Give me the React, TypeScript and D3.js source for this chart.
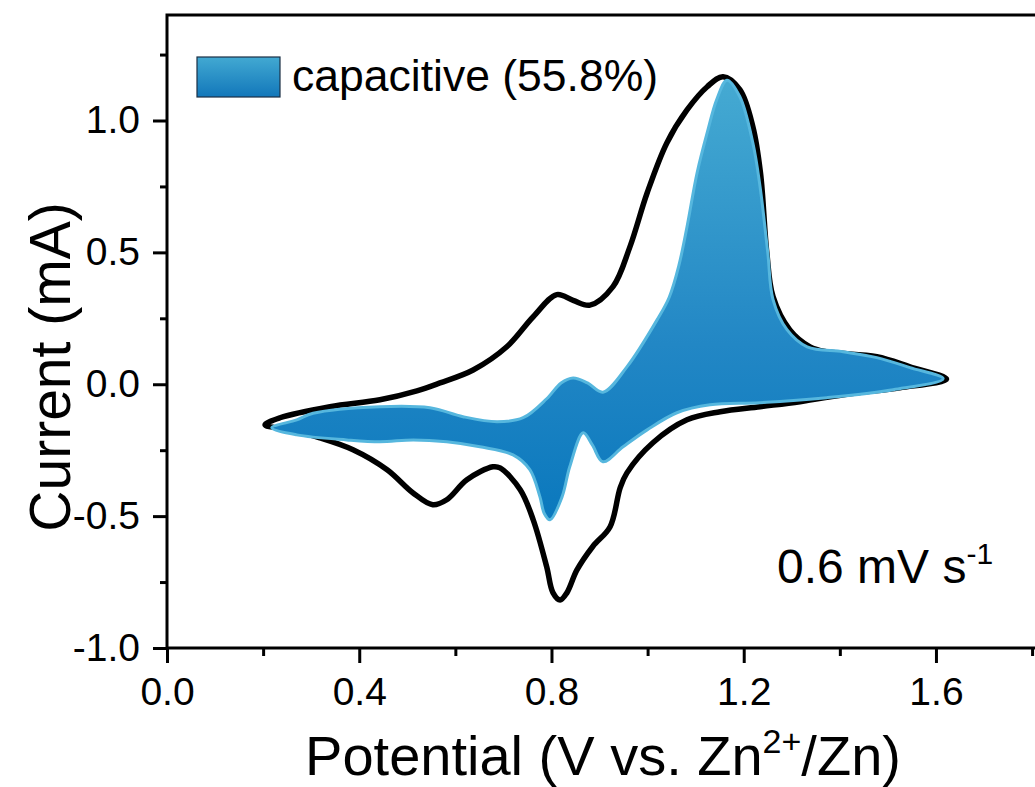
import React, { useEffect, useRef } from "react";
import * as d3 from "d3";

// [potential (V), current (mA)]
const totalForward = [
  [0.204, -0.154], [0.235, -0.127], [0.339, -0.085], [0.443, -0.059], [0.52, -0.025],
  [0.568, 0.005], [0.637, 0.054], [0.707, 0.142], [0.762, 0.256], [0.811, 0.34],
  [0.845, 0.318], [0.88, 0.3], [0.928, 0.37], [0.963, 0.52], [0.999, 0.725],
  [1.04, 0.915], [1.082, 1.04], [1.124, 1.128], [1.157, 1.166], [1.192, 1.117],
  [1.219, 0.977], [1.235, 0.8], [1.248, 0.5], [1.261, 0.332], [1.296, 0.206],
  [1.338, 0.142], [1.373, 0.123], [1.477, 0.104], [1.546, 0.066], [1.622, 0.02],
];
const totalReverse = [
  [1.525, -0.013], [1.421, -0.036], [1.317, -0.066], [1.234, -0.085], [1.151, -0.104],
  [1.082, -0.135], [1.011, -0.222], [0.957, -0.336], [0.943, -0.392], [0.922, -0.54],
  [0.886, -0.615], [0.853, -0.704], [0.832, -0.791], [0.818, -0.818], [0.803, -0.79],
  [0.79, -0.692], [0.762, -0.514], [0.735, -0.4], [0.693, -0.317], [0.678, -0.313],
  [0.624, -0.362], [0.582, -0.438], [0.553, -0.457], [0.512, -0.412], [0.458, -0.324],
  [0.387, -0.248], [0.318, -0.203], [0.256, -0.173],
];
const capForward = [
  [0.218, -0.165], [0.27, -0.135], [0.304, -0.11], [0.443, -0.085], [0.547, -0.089],
  [0.616, -0.123], [0.687, -0.142], [0.741, -0.127], [0.79, -0.055], [0.82, 0.005],
  [0.845, 0.024], [0.875, 0.005], [0.907, -0.03], [0.957, 0.066], [1.02, 0.245],
  [1.045, 0.33], [1.065, 0.45], [1.082, 0.597], [1.103, 0.802], [1.124, 0.954],
  [1.144, 1.08], [1.165, 1.153], [1.192, 1.09], [1.219, 0.915], [1.234, 0.749],
  [1.25, 0.5], [1.261, 0.321], [1.29, 0.207], [1.332, 0.142], [1.407, 0.123],
  [1.477, 0.101], [1.546, 0.063], [1.615, 0.021],
];
const capReverse = [
  [1.511, -0.021], [1.373, -0.051], [1.234, -0.07], [1.13, -0.078], [1.061, -0.108],
  [0.999, -0.173], [0.949, -0.237], [0.907, -0.294], [0.885, -0.23], [0.866, -0.184],
  [0.838, -0.313], [0.822, -0.427], [0.797, -0.514], [0.785, -0.49], [0.776, -0.427],
  [0.755, -0.324], [0.72, -0.268], [0.651, -0.237], [0.582, -0.218], [0.512, -0.211],
  [0.443, -0.218], [0.374, -0.211], [0.27, -0.192],
];

const xMajor = [0, 0.4, 0.8, 1.2, 1.6];
const xMinor = [0.2, 0.6, 1.0, 1.4, 1.8];
const yMajor = [-1, -0.5, 0, 0.5, 1];
const yMinor = [-0.75, -0.25, 0.25, 0.75, 1.25];

const legendLabel = "capacitive (55.8%)";

const FONT = "'Liberation Sans', Arial, sans-serif";

const App = () => {
  const ref = useRef(null);

  useEffect(() => {
    const svg = d3.select(ref.current);
    svg.selectAll("*").remove();

    const x = d3.scaleLinear().domain([0, 1.85]).range([167, 167 + 1.85 * 480.6]);
    const y = d3.scaleLinear().domain([-1, 1.4]).range([648, 15]);

    const defs = svg.append("defs");
    const grad = defs.append("linearGradient")
      .attr("id", "capGrad")
      .attr("gradientUnits", "userSpaceOnUse")
      .attr("x1", 0).attr("x2", 0)
      .attr("y1", y(1.16)).attr("y2", y(-0.52));
    grad.append("stop").attr("offset", "0%").attr("stop-color", "#45aad2");
    grad.append("stop").attr("offset", "60%").attr("stop-color", "#2287c5");
    grad.append("stop").attr("offset", "100%").attr("stop-color", "#0a78bd");

    const legGrad = defs.append("linearGradient")
      .attr("id", "legGrad")
      .attr("x1", 0).attr("x2", 0).attr("y1", 0).attr("y2", 1);
    legGrad.append("stop").attr("offset", "0%").attr("stop-color", "#42a9d2");
    legGrad.append("stop").attr("offset", "100%").attr("stop-color", "#1277ba");

    const line = d3.line()
      .x(d => x(d[0]))
      .y(d => y(d[1]))
      .curve(d3.curveCatmullRomClosed.alpha(0.5));

    // total current loop
    svg.append("path")
      .attr("d", line(totalForward.concat(totalReverse)))
      .attr("fill", "none")
      .attr("stroke", "#000")
      .attr("stroke-width", 5.5)
      .attr("stroke-linejoin", "round");

    // capacitive contribution
    svg.append("path")
      .attr("d", line(capForward.concat(capReverse)))
      .attr("fill", "url(#capGrad)")
      .attr("stroke", "#56b7de")
      .attr("stroke-width", 3)
      .attr("stroke-linejoin", "round");

    // frame
    svg.append("rect")
      .attr("x", x(0)).attr("y", y(1.4))
      .attr("width", x(1.85) - x(0) + 20)
      .attr("height", y(-1) - y(1.4))
      .attr("fill", "none")
      .attr("stroke", "#000")
      .attr("stroke-width", 3);

    const fmt = d => d.toFixed(1);

    const gx = svg.append("g").attr("transform", `translate(0,${y(-1)})`);
    gx.call(d3.axisBottom(x).tickValues(xMajor).tickSize(15).tickPadding(14).tickFormat(fmt));
    const gxm = svg.append("g").attr("transform", `translate(0,${y(-1)})`);
    gxm.call(d3.axisBottom(x).tickValues(xMinor).tickSize(8).tickFormat(() => ""));

    const gy = svg.append("g").attr("transform", `translate(${x(0)},0)`);
    gy.call(d3.axisLeft(y).tickValues(yMajor).tickSize(14).tickPadding(13).tickFormat(fmt));
    const gym = svg.append("g").attr("transform", `translate(${x(0)},0)`);
    gym.call(d3.axisLeft(y).tickValues(yMinor).tickSize(7).tickFormat(() => ""));

    [gx, gxm, gy, gym].forEach(g => {
      g.select(".domain").remove();
      g.selectAll("line").attr("stroke", "#000").attr("stroke-width", 3);
      g.selectAll("text")
        .attr("fill", "#000")
        .style("font-family", FONT)
        .style("font-size", "39px");
    });

    // axis titles
    const xt = svg.append("text")
      .attr("x", 603).attr("y", 775)
      .attr("text-anchor", "middle")
      .style("font-family", FONT)
      .style("font-size", "56px");
    xt.append("tspan").text("Potential (V vs. Zn");
    xt.append("tspan").attr("dy", -22).style("font-size", "34px").text("2+");
    xt.append("tspan").attr("dy", 22).text("/Zn)");

    svg.append("text")
      .attr("transform", "translate(70,367) rotate(-90)")
      .attr("text-anchor", "middle")
      .style("font-family", FONT)
      .style("font-size", "57px")
      .text("Current (mA)");

    // legend
    svg.append("rect")
      .attr("x", 197).attr("y", 57)
      .attr("width", 83).attr("height", 40)
      .attr("fill", "url(#legGrad)")
      .attr("stroke", "#1b2f45")
      .attr("stroke-width", 1.2);
    svg.append("text")
      .attr("x", 292).attr("y", 91)
      .style("font-family", FONT)
      .style("font-size", "44.5px")
      .text(legendLabel);

    // scan rate
    const sr = svg.append("text")
      .attr("x", 777).attr("y", 583)
      .style("font-family", FONT)
      .style("font-size", "48px");
    sr.append("tspan").text("0.6 mV s");
    sr.append("tspan").attr("dy", -19).style("font-size", "30px").text("-1");
  }, []);

  return (
    <svg
      ref={ref}
      width={1035}
      height={787}
      style={{ position: "absolute", left: 0, top: 0, background: "#fff" }}
    />
  );
};

export default App;
